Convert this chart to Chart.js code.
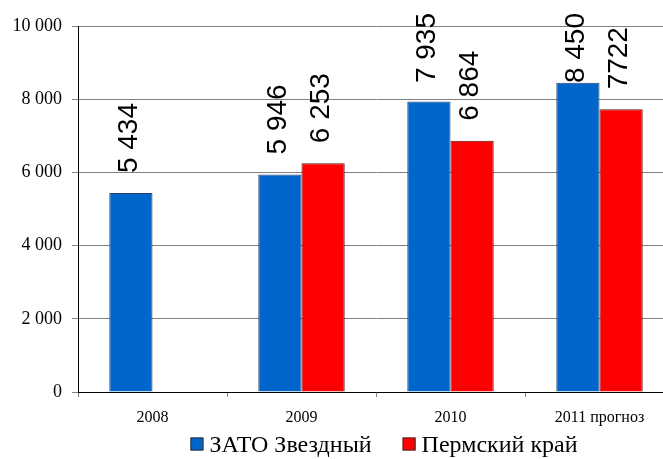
<!DOCTYPE html>
<html>
<head>
<meta charset="utf-8">
<script src="https://cdn.jsdelivr.net/npm/chart.js@4/dist/chart.umd.min.js"></script>
<style>
html,body{margin:0;padding:0;background:#fff;overflow:hidden;width:663px;height:459px;}
canvas{display:block;}
#pre{position:absolute;left:-3000px;top:0;white-space:nowrap;}
</style>
</head>
<body>
<div id="pre"><span style="font:24px 'Liberation Serif'">ЗАТО Звездный Пермский край</span><span style="font:18px 'Liberation Serif'">10 000</span><span style="font:16px 'Liberation Serif'">2011 прогноз</span><span style="font:28px 'Liberation Sans'">5 434</span></div>
<canvas id="c" width="768" height="459"></canvas>
<script>
const categories = ['2008', '2009', '2010', '2011 прогноз'];
const zatoValues = [5434, 5946, 7935, 8450];
const permValues = [null, 6253, 6864, 7722];
const zatoLabels = ['5 434', '5 946', '7 935', '8 450'];
const permLabels = ['', '6 253', '6 864', '7722'];
const seriesNames = ['ЗАТО Звездный', 'Пермский край'];
const yMin = 0, yMax = 10000, yStep = 2000;

const SERIF = "'Liberation Serif', 'Times New Roman', serif";
const SANS = "'Liberation Sans', Arial, sans-serif";
Chart.defaults.font.family = SERIF;
Chart.defaults.color = '#000';
const fmt = v => String(v).replace(/\B(?=(\d{3})+(?!\d))/g, ' ');

(function warm() {
  const cv = document.createElement('canvas');
  cv.width = 400; cv.height = 60;
  const c = cv.getContext('2d');
  [['24px "Liberation Serif"', 'ЗАТО Звездный Пермский край'],
   ['normal 18px ' + SERIF, '10 000 8 000'],
   ['normal 16px ' + SERIF, '2011 прогноз'],
   ['28px ' + SANS, '5 434 7722']].forEach(([f, t]) => {
    c.font = f; c.measureText(t); c.fillText(t, 0, 40);
  });
})();

const valueLabels = {
  id: 'valueLabels',
  afterDatasetsDraw(chart) {
    const ctx = chart.ctx;
    const texts = [zatoLabels, permLabels];
    ctx.save();
    ctx.font = '28px ' + SANS;
    ctx.fillStyle = '#000';
    ctx.textAlign = 'left';
    ctx.textBaseline = 'alphabetic';
    chart.data.datasets.forEach((ds, di) => {
      const meta = chart.getDatasetMeta(di);
      meta.data.forEach((bar, i) => {
        const t = texts[di][i];
        if (!t || ds.data[i] == null) return;
        const w = ctx.measureText(t).width;
        let start = bar.y - 20;
        if (start - w < 13) start = 13 + w;
        ctx.save();
        ctx.translate(bar.x + 6, start);
        ctx.rotate(-Math.PI / 2);
        ctx.fillText(t, 0, 0);
        ctx.restore();
      });
    });
    ctx.restore();
  }
};

// legend drawn from the datasets (names and colours)
const serifLegend = {
  id: 'serifLegend',
  afterDraw(chart) {
    const ctx = chart.ctx;
    const dss = chart.data.datasets;
    const box = 13, gapText = 6, gapItem = 31, cy = 445, center = 384;
    ctx.save();
    ctx.font = '24px "Liberation Serif", "Times New Roman", serif';
    ctx.textBaseline = 'middle';
    ctx.textAlign = 'left';
    const widths = dss.map(d => ctx.measureText(d.label).width);
    let total = widths.reduce((a, w) => a + box + gapText + w, 0) + gapItem * (dss.length - 1);
    let x = center - total / 2;
    dss.forEach((d, i) => {
      ctx.fillStyle = d.backgroundColor;
      ctx.fillRect(x, cy - box / 2 - 1, box, box);
      ctx.strokeStyle = '#333';
      ctx.lineWidth = 1;
      ctx.strokeRect(x + 0.5, cy - box / 2 - 0.5, box - 1, box - 1);
      ctx.fillStyle = '#000';
      ctx.fillText(d.label, x + box + gapText, cy + 1);
      x += box + gapText + widths[i] + gapItem;
    });
    ctx.restore();
  }
};

let chart = null;
function draw() {
  chart = new Chart(document.getElementById('c'), {
    type: 'bar',
    data: {
      labels: categories,
      datasets: [
        { label: seriesNames[0], data: zatoValues, backgroundColor: '#0066CC', borderColor: '#2a3f66', borderWidth: 1 },
        { label: seriesNames[1], data: permValues, backgroundColor: '#FF0000', borderColor: '#5a1010', borderWidth: 1 }
      ]
    },
    options: {
      responsive: false,
      animation: false,
      events: [],
      categoryPercentage: 0.58,
      barPercentage: 1.0,
      layout: { padding: { left: 0, right: 94, top: 26, bottom: 27 } },
      plugins: {
        tooltip: { enabled: false },
        legend: { display: false }
      },
      scales: {
        x: {
          afterFit(scale) { scale.height = 40; },
          grid: { drawOnChartArea: false, tickLength: 5, color: '#808080', offset: true },
          border: { color: '#000', width: 1, z: 1 },
          ticks: {
            color: '#000',
            padding: 11,
            maxRotation: 0,
            autoSkip: false,
            font: { family: SERIF, size: 16 }
          }
        },
        y: {
          min: yMin,
          max: yMax,
          afterFit(scale) { scale.width = 78; },
          grid: { color: '#808080', tickLength: 6 },
          border: { color: '#000', width: 1, z: 1 },
          ticks: {
            stepSize: yStep,
            color: '#000',
            padding: 10,
            callback: v => fmt(v),
            font: { family: SERIF, size: 18 }
          }
        }
      }
    },
    plugins: [valueLabels, serifLegend]
  });
}
setTimeout(draw, 60);
setTimeout(() => { if (chart) chart.update('none'); }, 200);
</script>
</body>
</html>
